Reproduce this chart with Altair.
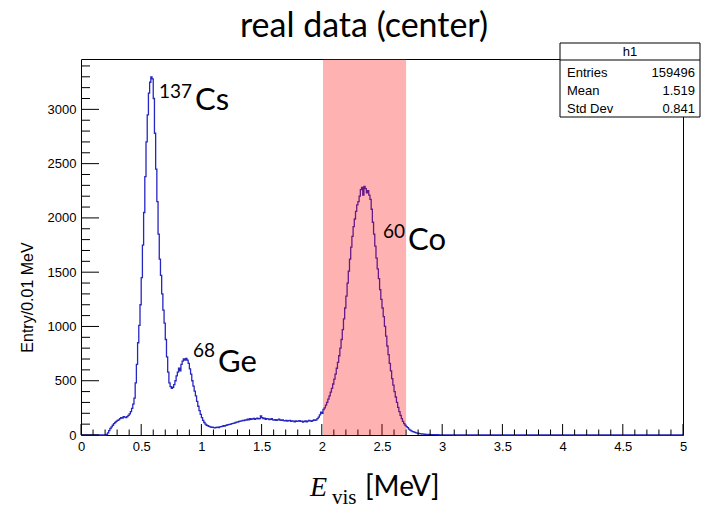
import altair as alt
import pandas as pd

# ---------------- data ----------------
BIN_WIDTH = 0.01
# counts per 0.01 MeV bin, starting at E = 0.00
COUNTS = [
    0, 0, 0, 0, 0, 0, 0, 0, 0, 0,
    0, 0, 0, 0, 0, 0, 0, 0, 0, 0,
    0, 5, 20, 40, 60, 75, 90, 105, 115, 125,
    135, 140, 150, 160, 155, 170, 165, 160, 170, 180,
    195, 215, 245, 285, 340, 480, 650, 850, 1010, 1200,
    1450, 1750, 2050, 2380, 2700, 2950, 3150, 3250, 3300, 3280,
    3100, 2780, 2450, 2150, 1850, 1620, 1470, 1300, 1150, 1030,
    880, 720, 580, 480, 445, 430, 440, 465, 500, 545,
    580, 615, 590, 650, 680, 700, 690, 705, 690, 660,
    610, 560, 500, 450, 405, 360, 310, 265, 225, 190,
    160, 135, 115, 100, 90, 85, 80, 75, 70, 72,
    68, 65, 70, 72, 68, 75, 78, 80, 85, 82,
    88, 92, 95, 98, 100, 105, 108, 110, 115, 118,
    120, 125, 128, 130, 135, 132, 140, 138, 145, 140,
    150, 145, 148, 152, 145, 150, 155, 148, 150, 175,
    160, 150, 155, 145, 150, 148, 142, 145, 150, 140,
    138, 142, 135, 140, 145, 138, 135, 140, 132, 130,
    135, 128, 132, 135, 125, 130, 128, 122, 130, 125,
    128, 132, 125, 128, 120, 125, 130, 122, 128, 135,
    130, 125, 132, 138, 135, 140, 150, 165, 185, 210,
    200, 235, 250, 275, 300, 330, 360, 395, 430, 470,
    515, 560, 615, 670, 730, 800, 880, 970, 1070, 1170,
    1280, 1400, 1510, 1620, 1730, 1830, 1920, 1990, 2060, 2120,
    2150, 2200, 2260, 2280, 2210, 2290, 2270, 2230, 2250, 2210,
    2170, 2080, 1960, 1850, 1740, 1630, 1530, 1440, 1340, 1250,
    1170, 1090, 1000, 910, 820, 740, 660, 590, 520, 460,
    400, 350, 300, 255, 215, 180, 150, 125, 105, 90,
    78, 68, 55, 45, 38, 32, 28, 24, 20, 17,
    14, 12, 10, 9, 8, 7, 6, 6, 5, 5,
    4, 4, 3, 3, 3, 2, 3, 2, 2, 2,
    1, 2, 1, 2, 1, 1, 1, 1, 0, 1,
    1, 1, 0, 0, 0, 0, 0, 0, 0, 0,
]
X_END = 5.0
BAND = [2.01, 2.70]

X_MAJOR = [0, 0.5, 1, 1.5, 2, 2.5, 3, 3.5, 4, 4.5, 5]
X_MINOR = [round(i * 0.1, 1) for i in range(51) if i % 5 != 0]
Y_MAJOR = [0, 500, 1000, 1500, 2000, 2500, 3000]
Y_MINOR = [v for v in range(100, 3500, 100) if v % 500 != 0]
Y_TOP = 3464

ANNOT_BIG = ["Cs", "Ge", "Co"]
ANNOT_BIG_X = [0.947, 1.138, 2.716]
ANNOT_BIG_Y = [2995, 585, 1705]
ANNOT_SUP = ["137", "68", "60"]
ANNOT_SUP_X = [0.648, 0.930, 2.508]
ANNOT_SUP_Y = [3105, 723, 1816]

STATS_NAME = "h1"
STATS_LABELS = ["Entries", "Mean", "Std Dev"]
STATS_VALUES = ["159496", "1.519", "0.841"]

TITLE = "real data (center)"
Y_TITLE = "Entry/0.01 MeV"

# ---------------- tables ----------------
edges = [round(i * BIN_WIDTH, 2) for i in range(len(COUNTS))] + [X_END]
hist = pd.DataFrame({"E": edges, "count": COUNTS + [0]})

W, H = 602, 376
LINE = "#2626c0"

xs = alt.Scale(domain=[0, 5], nice=False, zero=False)
ys = alt.Scale(domain=[0, Y_TOP], nice=False)

XA = alt.Axis(values=X_MAJOR, format="~g", ticks=False, domain=False, grid=False,
              labelFont="Liberation Sans", labelFontSize=13, labelColor="black",
              labelPadding=5, labelFlush=False, labelOverlap=False, title=None)
YA = alt.Axis(values=Y_MAJOR, format="d", ticks=False, domain=False, grid=False,
              labelFont="Liberation Sans", labelFontSize=13, labelColor="black",
              labelPadding=5, labelFlush=False, labelOverlap=False,
              title=Y_TITLE, titleFont="Liberation Sans", titleFontSize=16,
              titleFontWeight="normal", titleColor="black", titleAngle=270,
              titleX=-54, titleY=238, titleAlign="center", titleBaseline="middle")

line = alt.Chart(hist).mark_line(interpolate="step-after", color=LINE, strokeWidth=1.3).encode(
    x=alt.X("E:Q", scale=xs, axis=XA),
    y=alt.Y("count:Q", scale=ys, axis=YA),
)

xmaj = alt.Chart(pd.DataFrame({"v": X_MAJOR})).mark_rule(color="black", strokeWidth=1).encode(
    x=alt.X("v:Q", scale=xs, axis=XA), y=alt.value(H), y2=alt.value(H - 11))
xmin = alt.Chart(pd.DataFrame({"v": X_MINOR})).mark_rule(color="black", strokeWidth=1).encode(
    x=alt.X("v:Q", scale=xs, axis=XA), y=alt.value(H), y2=alt.value(H - 5.5))
ymaj = alt.Chart(pd.DataFrame({"v": Y_MAJOR})).mark_rule(color="black", strokeWidth=1).encode(
    y=alt.Y("v:Q", scale=ys, axis=YA), x=alt.value(0), x2=alt.value(18))
ymin = alt.Chart(pd.DataFrame({"v": Y_MINOR})).mark_rule(color="black", strokeWidth=1).encode(
    y=alt.Y("v:Q", scale=ys, axis=YA), x=alt.value(0), x2=alt.value(9))

band = alt.Chart(pd.DataFrame({"a": [BAND[0]], "b": [BAND[1]], "lo": [0], "hi": [Y_TOP]})).mark_rect(
    color="#ff0000", opacity=0.3).encode(
    x=alt.X("a:Q", scale=xs, axis=XA), x2="b", y=alt.Y("lo:Q", scale=ys, axis=YA), y2="hi")

big = alt.Chart(pd.DataFrame({"t": ANNOT_BIG, "x": ANNOT_BIG_X, "y": ANNOT_BIG_Y})).mark_text(
    align="left", baseline="alphabetic", font="Lato", fontSize=31, color="black").encode(
    x=alt.X("x:Q", scale=xs, axis=XA), y=alt.Y("y:Q", scale=ys, axis=YA), text="t:N")
sup = alt.Chart(pd.DataFrame({"t": ANNOT_SUP, "x": ANNOT_SUP_X, "y": ANNOT_SUP_Y})).mark_text(
    align="left", baseline="alphabetic", font="Lato", fontSize=19, color="black").encode(
    x=alt.X("x:Q", scale=xs, axis=XA), y=alt.Y("y:Q", scale=ys, axis=YA), text="t:N")

one = pd.DataFrame({"k": [0]})


def txt(s, x, y, size, font="Liberation Sans", align="left", style="normal"):
    return alt.Chart(one).mark_text(align=align, baseline="alphabetic", font=font,
                                    fontSize=size, fontStyle=style, color="black").encode(
        x=alt.value(x), y=alt.value(y), text=alt.value(s))


title = txt(TITLE, 283, -22, 34, font="Lato", align="center")
xt_e = txt("E", 229, 437, 28, font="Liberation Serif", style="italic")
xt_vis = txt("vis", 251, 445, 21, font="Liberation Serif")
xt_unit = txt("[MeV]", 284, 437, 28, font="Lato")

box = alt.Chart(one).mark_rect(fill="white", stroke="black", strokeWidth=1).encode(
    x=alt.value(479), x2=alt.value(619), y=alt.value(-16), y2=alt.value(58))
sep = alt.Chart(one).mark_rule(color="black", strokeWidth=1).encode(
    x=alt.value(479), x2=alt.value(619), y=alt.value(1))
st_name = txt(STATS_NAME, 549, -3, 13, align="center")
ROW_Y = [17.5, 36, 53.5]
st_rows = []
for lab, val, ry in zip(STATS_LABELS, STATS_VALUES, ROW_Y):
    st_rows.append(txt(lab, 486, ry, 13))
    st_rows.append(txt(val, 614, ry, 13, align="right"))

chart = alt.layer(
    line, xmaj, xmin, ymaj, ymin, band, big, sup, title, xt_e, xt_vis, xt_unit,
    box, sep, st_name, *st_rows,
).properties(
    width=W, height=H,
    autosize=alt.AutoSizeParams(type="none"),
    padding={"left": 81, "top": 59, "right": 18, "bottom": 74},
    background="white",
).configure_view(stroke="black", strokeWidth=1)

chart.save("out.html", embed_options={"renderer": "svg", "actions": False})
